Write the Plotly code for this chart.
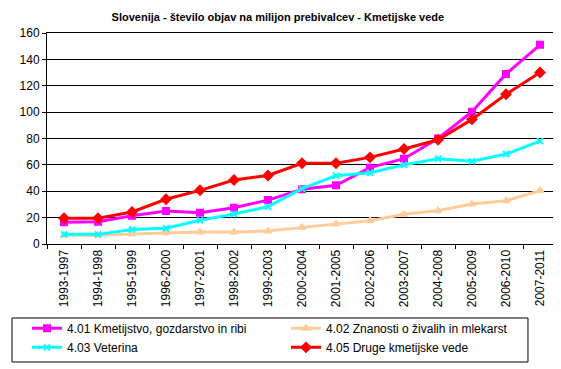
import plotly.graph_objects as go

categories = ["1993-1997", "1994-1998", "1995-1999", "1996-2000", "1997-2001",
              "1998-2002", "1999-2003", "2000-2004", "2001-2005", "2002-2006",
              "2003-2007", "2004-2008", "2005-2009", "2006-2010", "2007-2011"]

s401 = [16.5, 16.8, 21.5, 25, 23.7, 27.5, 33.3, 41.5, 44.5, 57.9, 64.7, 80, 100.3, 129, 151]
s402 = [6.6, 6.6, 7.6, 8.6, 9.1, 9.1, 9.8, 12.6, 15.2, 17.7, 22.5, 25.3, 30.3, 32.8, 40.4]
s403 = [7.3, 7.3, 11, 11.9, 18, 22.7, 28.3, 42, 51.8, 54, 60, 64.7, 62.7, 68.2, 78]
s405 = [19.5, 19.5, 24.3, 33.9, 40.7, 48.5, 52, 61.2, 61.2, 65.7, 72, 79, 94.5, 113.5, 130]

names = ["4.01 Kmetijstvo, gozdarstvo in ribi", "4.02 Znanosti o živalih in mlekarst",
         "4.03 Veterina", "4.05 Druge kmetijske vede"]

FONT = "Arial, Liberation Sans, sans-serif"

fig = go.Figure()
series = [
    (s401, names[0], "#FF00FF", "square", 6),
    (s402, names[1], "#FFCC99", "triangle-up", 6),
    (s403, names[2], "#00FFFF", "x-thin", 6),
    (s405, names[3], "#FF0000", "diamond", 7),
]
for vals, nm, col, sym, sz in series:
    fig.add_trace(go.Scatter(
        x=categories, y=vals, name=nm, mode="lines+markers",
        line=dict(color=col, width=3),
        marker=dict(symbol=sym, size=sz, color=col, line=dict(color=col, width=2)),
    ))

fig.update_layout(
    width=553, height=361,
    margin=dict(l=39, r=4, t=25, b=125, autoexpand=False),
    paper_bgcolor="white", plot_bgcolor="white",
    font=dict(family=FONT, size=12, color="black"),
    title=dict(text="<b>Slovenija - število objav na milijon prebivalcev - Kmetijske vede</b>",
               x=0.488, xref="container", xanchor="center",
               y=0.976, yref="container", yanchor="middle",
               font=dict(family=FONT, size=11, color="black")),
    showlegend=True,
    legend=dict(orientation="h", x=-0.0392, xanchor="left", y=-0.331, yanchor="top",
                borderwidth=0, bgcolor="rgba(0,0,0,0)",
                entrywidth=214, font=dict(family=FONT, size=12, color="black"),
                tracegroupgap=0, itemwidth=30),
    shapes=[dict(type="rect", xref="paper", yref="paper",
                 x0=-0.0686, x1=0.9431, y0=-0.5592, y1=-0.3507,
                 line=dict(color="black", width=1), fillcolor="rgba(0,0,0,0)")],
)
fig.update_xaxes(
    type="category", tickangle=-90, ticks="outside", tickson="boundaries",
    ticklen=4, tickcolor="black", showgrid=False, showline=True, linecolor="black",
    linewidth=1, mirror=True, tickfont=dict(family=FONT, size=12, color="black"),
    range=[-0.5, 14.5], automargin=False,
)
fig.update_yaxes(
    range=[0, 160], dtick=20, ticks="outside", ticklen=4, tickcolor="black",
    showgrid=True, gridcolor="black", gridwidth=1, showline=True, linecolor="black",
    linewidth=1, mirror=True, zeroline=False, automargin=False,
    tickfont=dict(family=FONT, size=12, color="black"),
)

fig.write_html("out.html")
